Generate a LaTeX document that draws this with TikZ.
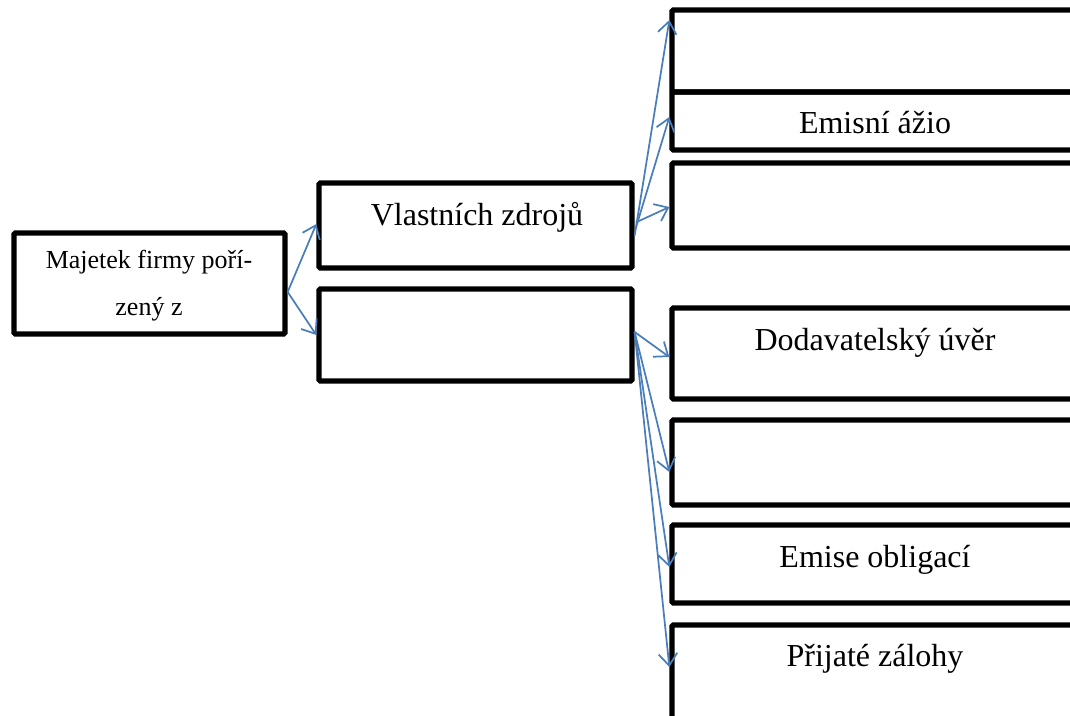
\documentclass[tikz,border=0pt]{standalone}
\usepackage{fontspec}
\setmainfont{Liberation Serif}
\usetikzlibrary{arrows.meta,calc}
\definecolor{arrblue}{HTML}{4A7EBB}
\tikzset{
  box/.style={draw=black, line width=4pt, inner sep=0pt, rounded corners=1pt},
  lbl/.style={anchor=base, inner sep=0pt, font=\fontsize{24}{29}\selectfont},
  sml/.style={anchor=base, inner sep=0pt, font=\fontsize{19.5}{24}\selectfont},
  arr/.style={draw=arrblue, line width=1.3pt, -{Straight Barb[length=9pt,width=14pt]}}
}
\begin{document}
\begin{tikzpicture}[x=0.75pt,y=-0.75pt]
\useasboundingbox (0,0) rectangle (1070,715);
\clip (0,0) rectangle (1070,715);
% boxes
\node[box, minimum width=203.25pt, minimum height=75.75pt] (A) at (149.5,283.5) {};
\node[box, minimum width=234.75pt, minimum height=63.75pt] (B) at (475.5,225.5) {};
\node[box, minimum width=234.75pt, minimum height=69pt] (C) at (475.5,335) {};
\node[box, minimum width=304.5pt, minimum height=61.5pt] (R1) at (875,51) {};
\node[box, minimum width=304.5pt, minimum height=43.5pt] (R2) at (875,121) {};
\node[box, minimum width=304.5pt, minimum height=63.75pt] (R3) at (875,205.5) {};
\node[box, minimum width=304.5pt, minimum height=68.25pt] (R4) at (875,353.5) {};
\node[box, minimum width=304.5pt, minimum height=63.75pt] (R5) at (875,462.5) {};
\node[box, minimum width=304.5pt, minimum height=58.5pt] (R6) at (875,564) {};
\node[box, minimum width=304.5pt, minimum height=71.25pt] (R7) at (875,672.5) {};
% texts
\node[sml] (tA1) at (149,268) {Majetek firmy poří-};
\node[sml] (tA2) at (149,315) {zený z};
\node[lbl] (tB) at (477,225) {Vlastních zdrojů};
\node[lbl] (tR2) at (875,133) {Emisní ážio};
\node[lbl] (tR4) at (875,350) {Dodavatelský úvěr};
\node[lbl] (tR6) at (875,567) {Emise obligací};
\node[lbl] (tR7) at (875,666) {Přijaté zálohy};
% connectors
\draw[arr] ($(A.east)+(0,8.5)$) -- ($(B.west)+(0,-1.5)$);
\draw[arr] ($(A.east)+(0,8.5)$) -- (C.west);
\draw[arr] ($(B.east)+(0,10)$) -- ($(R1.west)+(0,-31)$);
\draw[arr] ($(B.east)+(1,3)$) -- ($(R2.west)+(0,-4)$);
\draw[arr] ($(B.east)+(1,-3)$) -- ($(R3.west)+(0,1.5)$);
\draw[arr] ($(C.east)+(0,-3)$) -- ($(R4.west)+(0,3.5)$);
\draw[arr] ($(C.east)+(0,-3)$) -- ($(R5.west)+(0,9.5)$);
\draw[arr] ($(C.east)+(0,-3)$) -- ($(R6.west)+(0,3)$);
\draw[arr] ($(C.east)+(0,-3)$) -- ($(R7.west)+(0,-5.5)$);
\end{tikzpicture}
\end{document}
